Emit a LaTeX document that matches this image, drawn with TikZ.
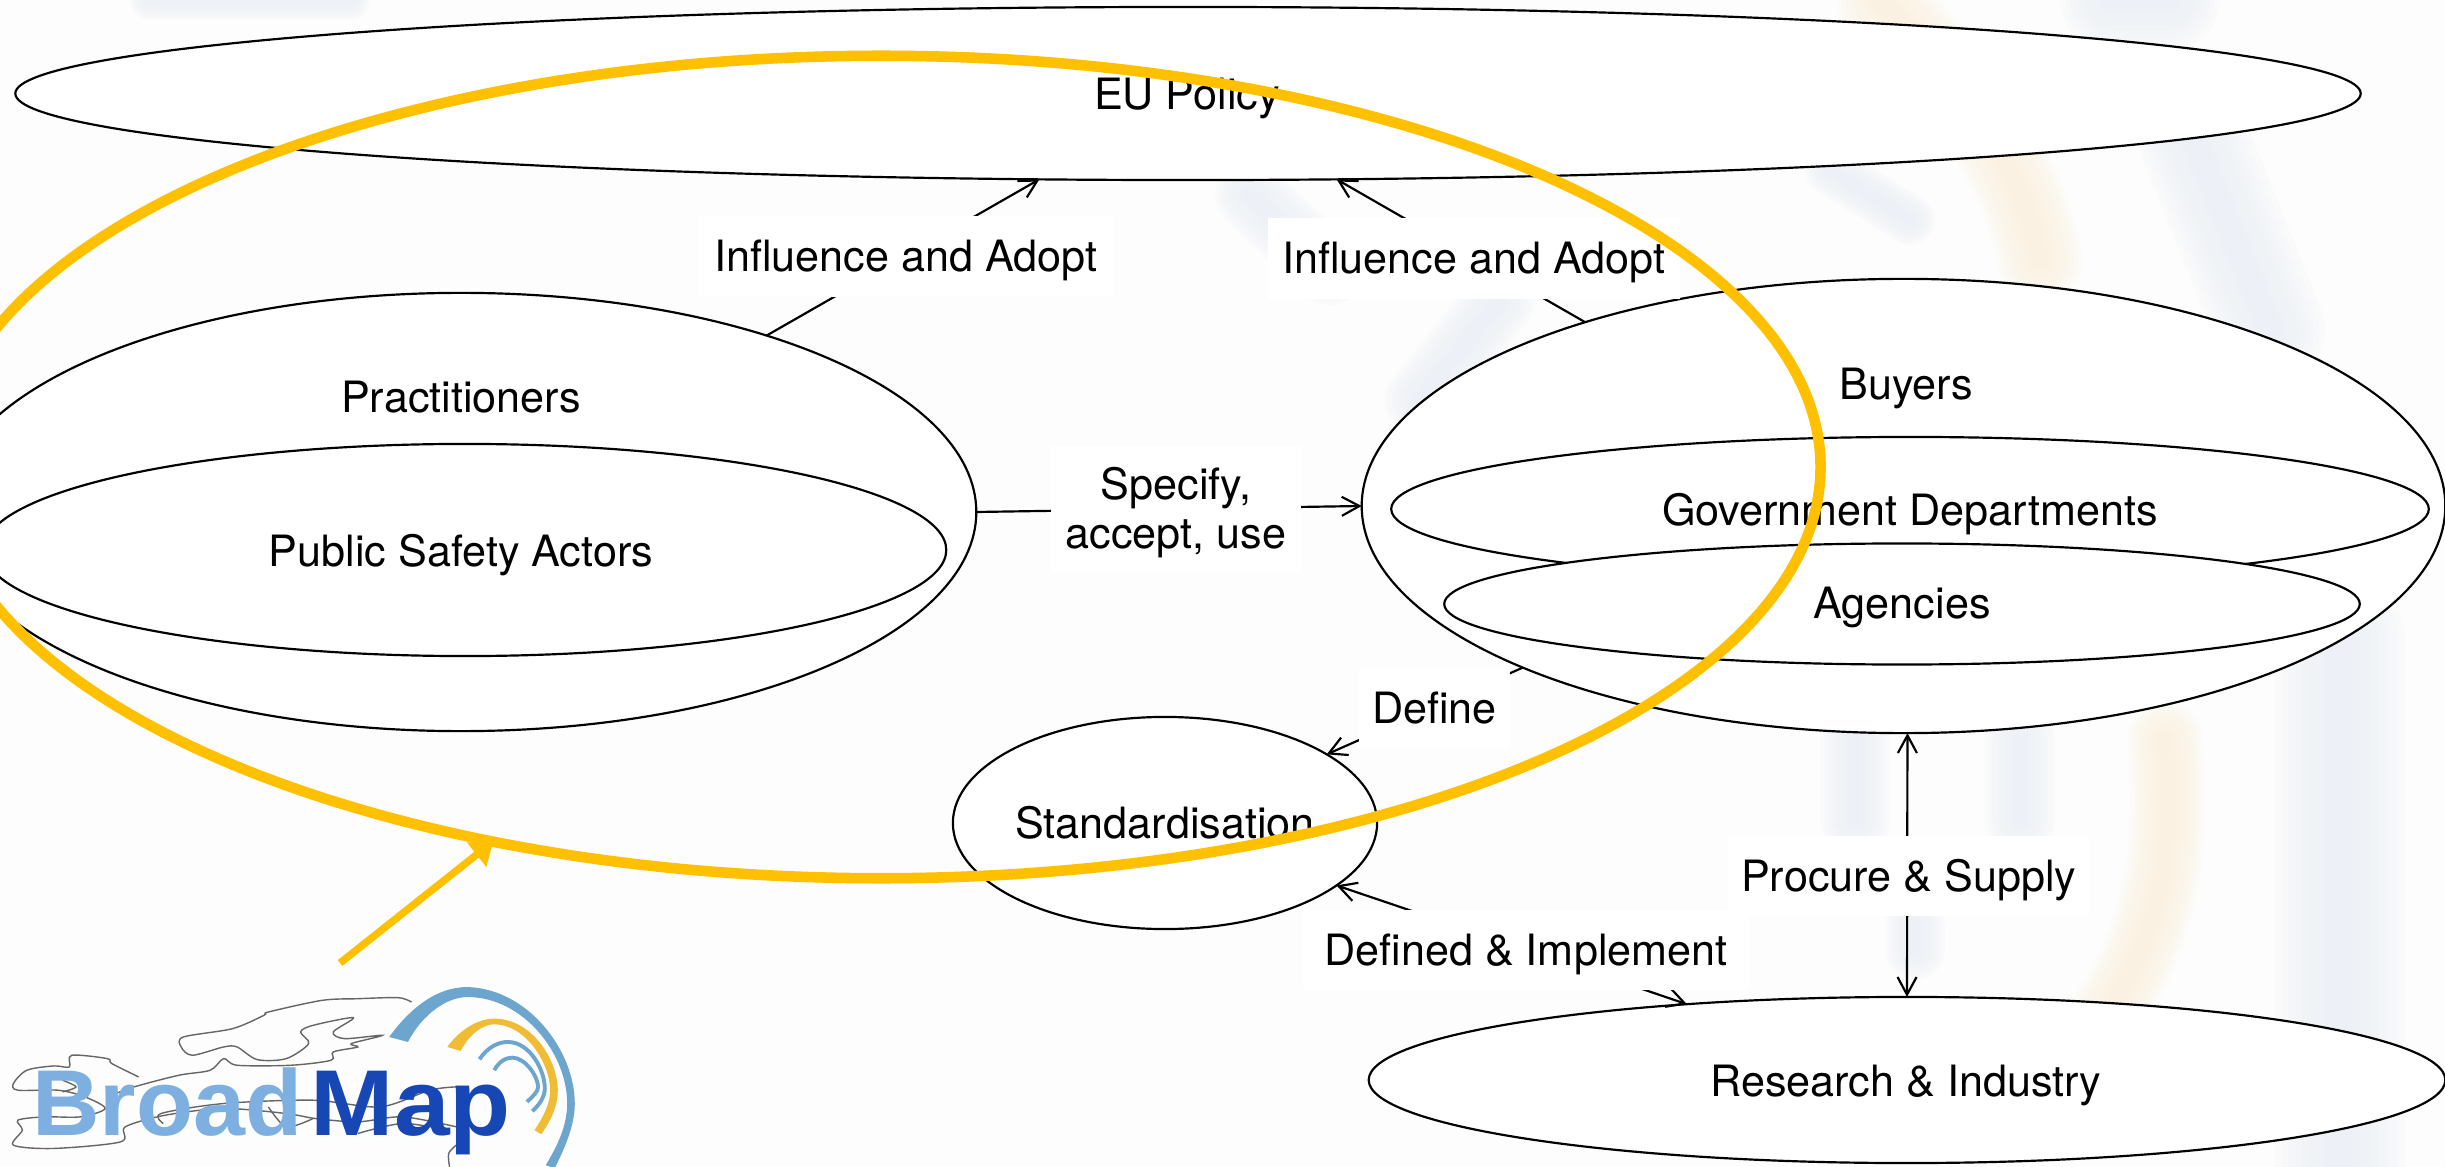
\documentclass[tikz,border=0pt]{standalone}
\usepackage{fontspec}
\setmainfont{TeX Gyre Heros}
\newfontfamily\logofont{Liberation Sans}[BoldFont={Liberation Sans Bold}]
\usetikzlibrary{shapes.geometric,arrows.meta}
\definecolor{gold}{HTML}{FFC000}
\definecolor{pagebg}{HTML}{FDFDFD}
\definecolor{bandblue}{HTML}{ECF0F6}
\definecolor{bandorange}{HTML}{FBF1DE}
\definecolor{logolight}{HTML}{7DB0E0}
\definecolor{logodark}{HTML}{1747B5}
\definecolor{logoarc}{HTML}{6CA5CE}
\definecolor{logogold}{HTML}{F0BC35}
\newcommand\softband[3]{\foreach \f in {1,.9,.8,.7,.6,.5,.4,.3,.2}{\draw[color=#1,line width=\f*#2*0.01cm,opacity=.16,line cap=round] #3;}}
\tikzset{
  x=0.01cm,y=-0.01cm,
  blob/.style={ellipse,draw=black,fill=white,line width=.62pt,inner sep=0pt,outer sep=0pt},
  txt/.style={font=\fontsize{12.27}{14.2}\selectfont,inner sep=0pt,outer sep=0pt,anchor=base,text=black},
  labelbox/.style={fill=white,inner sep=0pt,outer sep=0pt,minimum height=.8cm,font=\fontsize{12.27}{14.2}\selectfont,align=center},
  oneline/.style={labelbox,text height=10pt,text depth=1.2pt},
  link/.style={draw=black,line width=.62pt},
  thinmap/.style={draw=black!60,line width=.4pt,smooth},
}
\begin{document}
\begin{tikzpicture}
\clip (0,0) rectangle (2445,1167);
\fill[pagebg] (0,0) rectangle (2445,1167);
% faint watermark
\softband{bandblue}{40}{(150,0) -- (350,0)}
\softband{bandblue}{100}{(2110,0) -- (2170,0)}
\softband{bandblue}{110}{(2190,130) -- (2270,330)}
\softband{bandblue}{130}{(2340,640) -- (2340,1170)}
\softband{bandblue}{50}{(1830,170) -- (1910,220)}
\softband{bandblue}{70}{(1250,195) -- (1330,270)}
\softband{bandblue}{70}{(1500,300) -- (1420,400)}
\softband{bandblue}{70}{(1855,740) -- (1855,820)}
\softband{bandblue}{70}{(2020,740) -- (2020,820)}
\softband{bandblue}{60}{(1915,925) -- (1915,950)}
\softband{bandorange}{85}{(1880,0) .. controls (1960,80) and (2020,160) .. (2040,260)}
\softband{bandorange}{75}{(2165,740) .. controls (2175,850) and (2160,930) .. (2110,1010)}
% ellipses
\node[blob,minimum width=23.44cm,minimum height=1.73cm] (eu) at (1188,93.5) {};
\node[blob,minimum width=10.30cm,minimum height=4.38cm] (prac) at (461,512) {};
\node[blob,minimum width=9.62cm,minimum height=2.12cm] (pub) at (465,550) {};
\node[blob,minimum width=10.83cm,minimum height=4.54cm] (buy) at (1903.5,506) {};
\node[blob,minimum width=10.37cm,minimum height=1.44cm] (gov) at (1910,509) {};
\node[blob,minimum width=9.15cm,minimum height=1.21cm] (agn) at (1902,604) {};
\node[blob,minimum width=4.24cm,minimum height=2.12cm] (std) at (1165,823) {};
\node[blob,minimum width=10.76cm,minimum height=1.66cm] (res) at (1907,1080) {};
% connectors
\draw[link,-{Straight Barb[length=5pt,width=5.4pt]}] (prac.30) -- (eu.210);
\draw[link,-{Straight Barb[length=5pt,width=5.4pt]}] (buy.150.5) -- (eu.330);
\draw[link,-{Straight Barb[length=5pt,width=5.4pt]}] (prac.0.2) -- (buy.180.3);
\draw[link,-{Straight Barb[length=5pt,width=5.4pt]}] (buy.203.2) -- (std.23.4);
\draw[link,{Straight Barb[length=5pt,width=5.4pt]}-{Straight Barb[length=5pt,width=5.4pt]}] (std.340.7) -- (res.161.3);
\draw[link,{Straight Barb[length=5pt,width=5.4pt]}-{Straight Barb[length=5pt,width=5.4pt]}] (buy.271) -- (res.90);
% connector labels
\node[oneline,minimum width=4.14cm] (l1) at (906,256.5) {Influence and Adopt};
\node[oneline,minimum width=4.12cm] (l2) at (1474,258.5) {Influence and Adopt};
\node[labelbox,minimum width=2.5cm,minimum height=1.26cm] (l3) at (1176,509) {\rule{0pt}{11.2pt}Specify,\\accept, use};
\node[oneline,minimum width=1.51cm] (l4) at (1434.5,708) {Define};
\node[oneline,minimum width=4.45cm] (l5) at (1526,950) {Defined \& Implement};
\node[oneline,minimum width=3.61cm] (l6) at (1908.5,876) {Procure \& Supply};
% ellipse texts
\node[txt] (teu) at (1187,110) {EU Policy};
\node[txt] (tprac) at (461,413) {Practitioners};
\node[txt] (tpub) at (461,567) {Public Safety Actors};
\node[txt] (tbuy) at (1906,399.5) {Buyers};
\node[txt] (tgov) at (1910,525.5) {Government Departments};
\node[txt] (tagn) at (1902,619) {Agencies};
\node[txt] (tstd) at (1165,838) {Standardisation};
\node[txt] (tres) at (1906,1096) {Research \& Industry};
% logo (scope coordinates follow a 2.24 x 3 enlargement of its corner)
\begin{scope}[yshift=-9cm,x=0.004464cm,y=-0.003333cm]
\draw[thinmap] plot coordinates {(920,305)(890,292)(800,295)(720,300)(600,335)(590,345)(520,385)(410,410)(405,440)(430,465)(500,440)(530,440)(575,478)(640,475)(690,430)(672,395)(700,375)(790,352)(745,395)(770,415)(855,405)(785,430)(800,440)(745,455)(740,480)(650,495)(530,495)(500,475)(470,510)(400,525)(300,560)(240,590)};
\draw[thinmap] plot coordinates {(310,530)(250,490)(240,475)(160,465)(155,500)(120,497)(60,510)(30,550)(40,570)(130,570)(190,590)(235,625)(180,650)(100,650)(40,660)(50,690)(30,735)(120,745)(270,725)(280,680)(370,645)(500,625)(640,640)(705,655)(800,665)(900,650)(1020,680)};
\draw[thinmap] plot coordinates {(1020,560)(960,570)(850,620)(700,600)(500,610)(360,640)(365,670)};
\draw[thinmap] plot coordinates {(600,620)(640,680)(700,655)};
\draw[thinmap] plot coordinates {(140,540)(170,560)(140,575)};
\draw[thinmap] plot coordinates {(800,700)(900,670)(1000,690)};
\draw[thinmap] plot coordinates {(1020,735)(1003,760)(1005,800)};
\fill[logoarc] (870,410) .. controls (930,300) and (990,260) .. (1045,260) .. controls (1180,265) and (1285,450) .. (1285,610) .. controls (1285,680) and (1260,750) .. (1240,805) -- (1220,795) .. controls (1250,730) and (1268,670) .. (1268,610) .. controls (1268,460) and (1170,290) .. (1045,290) .. controls (1000,290) and (945,340) .. (912,425) -- cycle;
\fill[logogold] (1000,440) .. controls (1030,385) and (1070,355) .. (1105,355) .. controls (1190,355) and (1247,480) .. (1247,570) .. controls (1247,620) and (1230,665) .. (1210,702) -- (1195,690) .. controls (1215,650) and (1230,610) .. (1230,570) .. controls (1230,490) and (1175,372) .. (1105,372) .. controls (1080,372) and (1050,400) .. (1030,452) -- cycle;
\draw[logoarc,line width=1.1pt] (1072,477) .. controls (1090,440) and (1115,425) .. (1135,425) .. controls (1185,425) and (1218,510) .. (1218,565) .. controls (1218,590) and (1205,615) .. (1190,633);
\draw[logoarc,line width=1.1pt] (1105,510) .. controls (1115,485) and (1130,472) .. (1145,472) .. controls (1175,472) and (1203,530) .. (1203,560) .. controls (1203,575) and (1190,590) .. (1178,605);
\node[anchor=base west,inner sep=0pt,outer sep=0pt,text=logolight,font=\logofont\bfseries\fontsize{26.6}{28}\selectfont] (broad) at (72,705) {Broad};
\node[anchor=base west,inner sep=0pt,outer sep=0pt,xscale=1.07,text=logodark,font=\logofont\bfseries\fontsize{26.6}{28}\selectfont] (map) at (695,705) {Map};
\end{scope}
% highlight
\node[ellipse,draw=gold,line width=3pt,inner sep=0pt,outer sep=0pt,minimum width=18.78cm,minimum height=8.22cm] (ring) at (881,467) {};
\coordinate (ringfoot) at (340,963);
\draw[gold,line width=2.1pt,-{Triangle[length=6pt,width=8.5pt]}] (ringfoot) -- (ring.224.8);
\end{tikzpicture}
\end{document}
